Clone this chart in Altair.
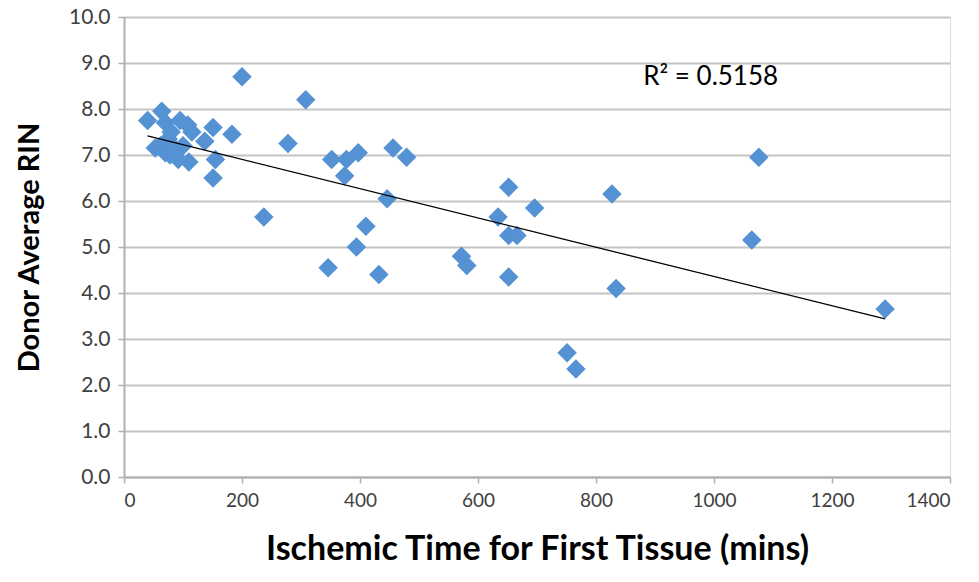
import altair as alt
import pandas as pd

# Ischemic time (mins) and donor average RIN
ischemic_time = [40, 53, 64, 70, 80, 95, 108, 115, 62, 70, 78, 92, 110, 100, 137, 151, 155, 151, 183, 75, 85,
                 200, 308, 237, 278, 346, 352, 377, 397, 374, 456, 479, 446, 410, 394, 432,
                 572, 581, 634, 652, 652, 666, 696, 652, 751, 766, 827, 834, 1064, 1076, 1290]
avg_rin = [7.75, 7.15, 7.95, 7.7, 7.5, 7.75, 7.65, 7.5, 7.2, 7.05, 7.0, 6.9, 6.85, 7.2, 7.3, 7.6, 6.9, 6.5, 7.45, 7.35, 7.15,
           8.7, 8.2, 5.65, 7.25, 4.55, 6.9, 6.9, 7.05, 6.55, 7.15, 6.95, 6.05, 5.45, 5.0, 4.4,
           4.8, 4.6, 5.65, 6.3, 5.25, 5.25, 5.85, 4.35, 2.7, 2.35, 6.15, 4.1, 5.15, 6.95, 3.65]

x_ticks = [0, 200, 400, 600, 800, 1000, 1200, 1400]
y_ticks = [0, 1, 2, 3, 4, 5, 6, 7, 8, 9, 10]

r2_label = ["R² = 0.5158"]
r2_x = [880]
r2_y = [8.7]

df = pd.DataFrame({"time": ischemic_time, "rin": avg_rin})
ann = pd.DataFrame({"label": r2_label, "x": r2_x, "y": r2_y})

FONT = "Lato"
GRAY = "#404040"

x_enc = alt.X("time:Q",
              scale=alt.Scale(domain=[0, 1400], nice=False),
              axis=alt.Axis(values=x_ticks, format="d", title="Ischemic Time for First Tissue (mins)",
                            grid=False, domainColor="#b0b0b0", domainWidth=2,
                            tickColor="#b0b0b0", tickWidth=1.5, tickSize=6,
                            labelFont=FONT, labelFontSize=19, labelColor=GRAY, labelPadding=8,
                            titleFont=FONT, titleFontSize=34, titleFontWeight="bold",
                            titleColor="#000000", titlePadding=22))
y_enc = alt.Y("rin:Q",
              scale=alt.Scale(domain=[0, 10], nice=False),
              axis=alt.Axis(values=y_ticks, format=".1f", title="Donor Average RIN",
                            grid=True, gridColor="#c4c4c4", gridWidth=2,
                            domainColor="#b0b0b0", domainWidth=2,
                            tickColor="#b0b0b0", tickWidth=1.5, tickSize=6,
                            labelFont=FONT, labelFontSize=21, labelColor=GRAY, labelPadding=8,
                            titleFont=FONT, titleFontSize=29, titleFontWeight="bold",
                            titleColor="#000000", titlePadding=24))

points = alt.Chart(df).mark_point(shape="diamond", filled=True, size=380,
                                  color="#5592d4", opacity=1).encode(x=x_enc, y=y_enc)

trend = alt.Chart(df).transform_regression("time", "rin").mark_line(
    color="#000000", strokeWidth=1.3).encode(x="time:Q", y="rin:Q")

label = alt.Chart(ann).mark_text(font=FONT, fontSize=26, color="#000000", align="left").encode(
    x="x:Q", y="y:Q", text="label:N")

chart = alt.layer(points, trend, label).properties(
    width=826, height=460,
    autosize=alt.AutoSizeParams(type="none"),
    padding={"left": 124, "top": 17, "right": 29, "bottom": 105},
).configure_view(stroke=None).configure(background="#ffffff")

chart.save("out.html", embed_options={"renderer": "svg", "actions": False})
